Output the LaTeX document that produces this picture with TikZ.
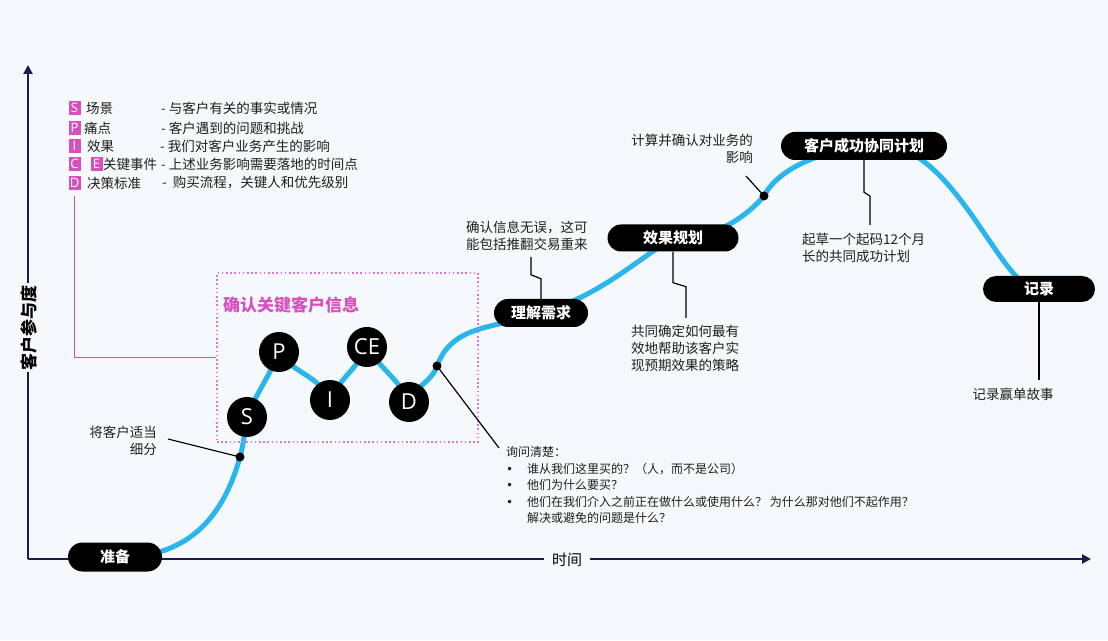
\documentclass[tikz,border=0pt]{standalone}
\usepackage{fontspec}
\setmainfont{Noto Sans CJK SC}
\newfontfamily\lettersans{Open Sans}
\newfontfamily\symfont{DejaVu Sans}
\usetikzlibrary{shapes.misc,arrows.meta,backgrounds}

\definecolor{paper}{RGB}{246,249,251}
\definecolor{axisnavy}{RGB}{27,27,78}
\definecolor{trackblue}{RGB}{41,182,236}
\definecolor{tagpink}{RGB}{214,80,190}
\definecolor{boxpink}{RGB}{228,116,212}
\definecolor{ink}{RGB}{30,30,30}

\tikzset{
  axisline/.style={draw=axisnavy, line width=2.2pt, -{Triangle[length=9pt,width=9pt]}},
  track/.style={draw=trackblue, line width=5pt},
  stage/.style={rounded rectangle, fill=black, text=white, font=\bfseries\fontsize{15}{15}\selectfont, minimum height=28pt, inner sep=0pt},
  letter/.style={circle, fill=black, text=white, minimum size=40pt, inner sep=0pt, font=\lettersans\fontsize{22}{22}\selectfont},
  bead/.style={circle, fill=black, minimum size=9pt, inner sep=0pt},
  lead/.style={draw=black, line width=1.2pt},
  note/.style={text=ink, font=\fontsize{13.5}{17}\selectfont, inner sep=0pt},
  tag/.style={fill=tagpink, text=white, font=\lettersans\fontsize{13}{13}\selectfont, minimum width=12pt, minimum height=14pt, inner sep=0pt},
  infobox/.style={draw=boxpink, line width=1.6pt, dash pattern=on 1.6pt off 2.6pt, minimum width=261pt, minimum height=169pt},
}

\begin{document}
\begin{tikzpicture}[x=1pt,y=1pt]
  \useasboundingbox (0,0) rectangle (1108,640);
  \coordinate (origin) at (28,81);
  \coordinate (ytop) at (28,575);
  \coordinate (xend) at (1091,81);

  % stages along the curve
  \node[stage, minimum width=94pt, minimum height=29pt] (prep) at (115,83) {准备};
  \node[stage, minimum width=94pt] (need) at (541,327) {理解需求};
  \node[stage, minimum width=131pt, minimum height=27pt] (plan) at (673,402) {效果规划};
  \node[stage, minimum width=166pt] (csp) at (864,494) {客户成功协同计划};
  \node[stage, minimum width=112pt, minimum height=26pt] (rec) at (1039,351) {记录};

  % SPICED
  \node[infobox] (infobox) at (347.5,282.5) {};
  \node[anchor=west, text=tagpink, font=\bfseries\fontsize{17}{17}\selectfont, inner sep=0pt] (infotitle) at (223,335) {确认关键客户信息};
  \node[letter] (S) at (247,223) {S};
  \node[letter] (P) at (279,288) {P};
  \node[letter] (I) at (330,240) {I};
  \node[letter] (CE) at (367,293) {CE};
  \node[letter] (D) at (409,238) {D};

  \node[bead] (sdot) at (240,183) {};
  \node[bead] (ddot) at (437,274) {};
  \node[bead] (cdot) at (764,444) {};

  % axis labels
  \node[fill=paper, font=\bfseries\fontsize{17}{17}\selectfont, rotate=90, inner xsep=2pt, inner ysep=1pt] (ylab) at (29,312) {客户参与度};
  \node[fill=paper, font=\fontsize{15}{15}\selectfont, inner xsep=8pt, inner ysep=2pt] (xlab) at (567,80) {时间};

  % legend
  \node[tag] (tagS) at (74.5,532) {S};
  \node[tag] (tagP) at (74.5,512) {P};
  \node[tag] (tagI) at (74.5,494) {I};
  \node[tag] (tagC) at (74.5,476) {C};
  \node[tag] (tagE) at (96.5,476) {E};
  \node[tag] (tagD) at (74.5,457) {D};
  \node[note, anchor=west] (keyS) at (86,532) {场景};
  \node[note, anchor=west] (keyP) at (84,512) {痛点};
  \node[note, anchor=west] (keyI) at (87,494) {效果};
  \node[note, anchor=west] (keyCE) at (103,476) {关键事件};
  \node[note, anchor=west] (keyD) at (87,457) {决策标准};
  \node[note, anchor=west] (descS) at (161,532) {- 与客户有关的事实或情况};
  \node[note, anchor=west] (descP) at (161,512) {- 客户遇到的问题和挑战};
  \node[note, anchor=west] (descI) at (160,494) {- 我们对客户业务产生的影响};
  \node[note, anchor=west] (descCE) at (161,476) {- 上述业务影响需要落地的时间点};
  \node[note, anchor=west] (descD) at (162,457) {-\ \ 购买流程，关键人和优先级别};

  % notes
  \node[note, align=right, anchor=east] (segtxt) at (157,199) {将客户适当\\细分};
  \node[note, align=left, anchor=west, font=\fontsize{12}{16.5}\selectfont] (asktxt) at (506,155)
    {询问清楚：\\
     \makebox[21pt][l]{\symfont •}谁从我们这里买的？（人，而不是公司）\\
     \makebox[21pt][l]{\symfont •}他们为什么要买？\\
     \makebox[21pt][l]{\symfont •}他们在我们介入之前正在做什么或使用什么？ 为什么那对他们不起作用？\\
     \hspace*{21pt}解决或避免的问题是什么？};
  \node[note, align=left, anchor=west] (verifytxt) at (466,404) {确认信息无误，这可\\能包括推翻交易重来};
  \node[note, align=left, anchor=west] (plantxt) at (631,292) {共同确定如何最有\\效地帮助该客户实\\现预期效果的策略};
  \node[note, align=right, anchor=east] (calctxt) at (753,491.5) {计算并确认对业务的\\影响};
  \node[note, align=left, anchor=west] (csptxt) at (802,392) {起草一个起码12个月\\长的共同成功计划};
  \node[note] (rectxt) at (1013,246) {记录赢单故事};

  \coordinate (segend) at (168,201);
  \coordinate (askend) at (499,192);
  \coordinate (calcend) at (746,464);
  \coordinate (verifyend) at (531,383);
  \coordinate (planend) at (686,322);
  \coordinate (cspend) at (870,415);
  \coordinate (recend) at (1039,260);

  \begin{scope}[on background layer]
    \fill[paper] (0,0) rectangle (1108,640);
    \draw[axisline] (origin) -- (xend);
    \draw[axisline] (origin) -- (ytop);
    \draw[track] (prep.center) .. controls +(85,-3) and +(-12,-43) .. (sdot.center)
      to[out=75,in=-100] (S.center)
      to[out=68,in=-112] (P.center)
      to[out=-55,in=115] (I.center)
      to[out=65,in=-115] (CE.center)
      to[out=-58,in=115] (D.center)
      to[out=68,in=-110] (ddot.center)
      to[out=70,in=200] (need.center)
      .. controls +(59,18) and +(-43,-27) .. (plan.center)
      .. controls +(42,-2) and +(-16,-19) .. (cdot.center)
      .. controls +(16,31) and +(-34,-4) .. (csp.center)
      .. controls +(86,21) and +(-39,-5) .. (rec.center);
  \end{scope}

  % leaders
  \draw[color=tagpink, line width=1.6pt, shorten <=6pt] (tagD.south) |- (infobox.west);
  \draw[lead] (sdot.center) -- (segend);
  \draw[lead] (ddot.center) -- (askend);
  \draw[lead] (cdot.center) -- (calcend);
  \draw[lead] (need.north) -- ++(0,20) -- ++(-10,4) -- (verifyend);
  \draw[lead] (plan.south) -- ++(0,-31) -- ++(13,-4) -- (planend);
  \draw[lead] (csp.south) -- ++(0,-32) -- ++(6,-4) -- (cspend);
  \draw[lead] (rec.south) -- (recend);
\end{tikzpicture}
\end{document}
